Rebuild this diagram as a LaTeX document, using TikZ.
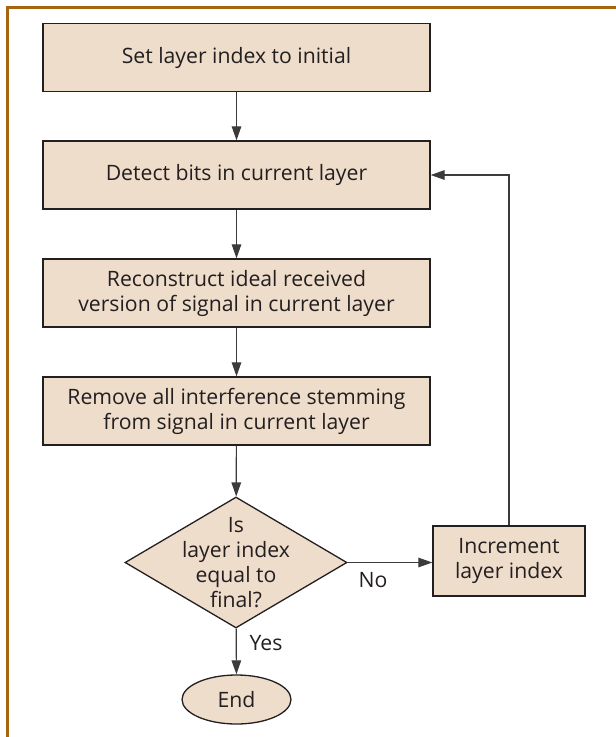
\documentclass[tikz,border=0pt]{standalone}
\usepackage{fontspec}
\setmainfont{Open Sans}
\usetikzlibrary{shapes.geometric,arrows.meta}
\definecolor{framebrown}{HTML}{A6650F}
\definecolor{boxfill}{HTML}{EEDDCA}
\definecolor{ink}{HTML}{231F20}
\definecolor{wire}{HTML}{3C3A3B}
\tikzset{
  every node/.style={font=\fontsize{21.2}{25}\selectfont, text=ink},
  procbox/.style={draw=ink, line width=1.3pt, fill=boxfill, rectangle,
    minimum width=387pt, minimum height=68pt, inner sep=0pt, align=center},
  incbox/.style={draw=ink, line width=1.3pt, fill=boxfill, rectangle,
    minimum width=152pt, minimum height=70pt, inner sep=0pt, align=center},
  decision/.style={draw=ink, line width=1.3pt, fill=boxfill, diamond,
    minimum width=222pt, minimum height=131pt, inner sep=0pt},
  terminal/.style={draw=ink, line width=1.3pt, fill=boxfill, ellipse,
    minimum width=109pt, minimum height=49pt, inner sep=0pt},
  flow/.style={draw=wire, line width=1.2pt, -{Triangle[length=14pt,width=9.5pt]}},
  lbl/.style={align=center, inner sep=0pt}
}
\begin{document}
\begin{tikzpicture}[x=1pt, y=-1pt]
  \useasboundingbox (0,0) rectangle (616,737);
  % frame lines along the top and left
  \draw[framebrown, line width=3pt] (7,737) -- (7,7) -- (616,7);

  % process chain
  \node[procbox] (init) at (236.5,57.5) {Set layer index to initial};
  \node[procbox] (detect) at (236.5,175) {Detect bits in current layer};
  \node[procbox] (recon) at (236.5,293) {Reconstruct ideal received\\version of signal in current layer};
  \node[procbox] (remove) at (236.5,411) {Remove all interference stemming\\from signal in current layer};
  \node[decision, label={[lbl]center:Is\\layer index\\equal to\\final?}] (check) at (236,562.5) {};
  \node[incbox] (inc) at (509,561) {Increment\\layer index};
  \node[terminal] (done) at (236.5,699.5) {End};

  % connectors
  \draw[flow] (init) -- (detect);
  \draw[flow] (detect) -- (recon);
  \draw[flow] (recon) -- (remove);
  \draw[flow] (remove) -- (check);
  \draw[flow] (check) -- (done);
  \draw[flow] (check.east) -- (check.east -| inc.west);
  \draw[flow] (inc.north) |- (detect.east);

  % branch labels
  \node[lbl] (nolbl) at (373,580) {No};
  \node[lbl] (yeslbl) at (266,643) {Yes};
\end{tikzpicture}
\end{document}
